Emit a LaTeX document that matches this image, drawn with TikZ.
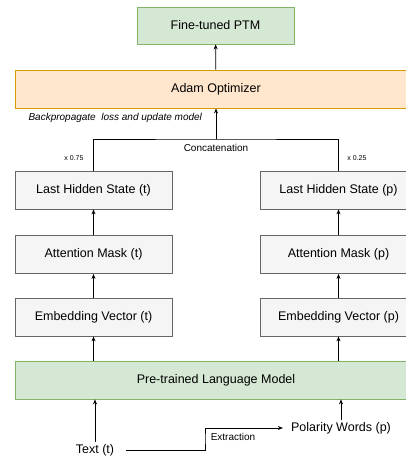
\documentclass[tikz,border=0pt]{standalone}
\usepackage{fontspec}
\setmainfont{Liberation Sans}
\usetikzlibrary{arrows.meta}

\definecolor{greenfill}{HTML}{D5E8D4}
\definecolor{greenline}{HTML}{82B366}
\definecolor{orangefill}{HTML}{FFE6CC}
\definecolor{orangeline}{HTML}{D79B00}
\definecolor{greyfill}{HTML}{F5F5F5}
\definecolor{greyline}{HTML}{666666}

\begin{document}
\begin{tikzpicture}[x=1pt,y=-1pt,
    layer/.style={draw=greyline,fill=greyfill,line width=0.8pt,minimum width=157pt,minimum height=38pt,font=\fontsize{12.5}{15}\selectfont},
    wide/.style={line width=0.8pt,minimum width=402pt,minimum height=38pt,font=\fontsize{12.5}{15}\selectfont},
    arr/.style={-{Stealth[length=5pt,width=4pt]},line width=0.8pt}]
    \path[use as bounding box,clip] (0,0) rectangle (406,456);
    \node[draw=greenline,fill=greenfill,line width=0.8pt,minimum width=157pt,minimum height=37pt,font=\fontsize{12.5}{15}\selectfont] (ptm) at (215.5,25.5){Fine-tuned PTM};
    \node[wide,draw=orangeline,fill=orangefill] (adam) at (216,89){Adam Optimizer};
    \node[wide,draw=greenline,fill=greenfill] (plm) at (216,380){Pre-trained Language Model};
    \node[layer] (lhst) at (93.5,190){Last Hidden State (t)};
    \node[layer] (lhsp) at (338.5,190){Last Hidden State (p)};
    \node[layer] (amt) at (93.5,254.5){Attention Mask (t)};
    \node[layer] (amp) at (338.5,254.5){Attention Mask (p)};
    \node[layer] (evt) at (93.5,317){Embedding Vector (t)};
    \node[layer] (evp) at (338.5,317){Embedding Vector (p)};
    \node[font=\fontsize{12.5}{15}\selectfont,inner sep=2pt] (text) at (95,450){Text (t)};
    \node[font=\fontsize{12.5}{15}\selectfont,inner sep=2pt] (pol) at (341,428){Polarity Words (p)};
    \coordinate (cc) at (216,139);
    \coordinate (ex) at (205,438);
    \draw[arr] (adam) -- (ptm);
    \draw[line width=0.8pt] (lhst.north) |- (cc) -| (lhsp.north);
    \draw[arr] (cc) -- (adam);
    \draw[arr] (amt) -- (lhst);
    \draw[arr] (amp) -- (lhsp);
    \draw[arr] (evt) -- (amt);
    \draw[arr] (evp) -- (amp);
    \draw[arr] (evt.south |- plm.north) -- (evt);
    \draw[arr] (evp.south |- plm.north) -- (evp);
    \draw[arr] (text.north) -- (text.north |- plm.south);
    \draw[arr] (pol.north) -- (pol.north |- plm.south);
    \draw[arr,shorten <=10pt,shorten >=6pt] (text.east) -| (ex) |- (pol.west);
    \node[font=\fontsize{10}{12}\selectfont\itshape,anchor=west] (back) at (25,118){Backpropagate\ \ loss and update model};
    \node[font=\fontsize{10}{12}\selectfont] (concat) at (216,148){Concatenation};
    \node[font=\fontsize{7}{8}\selectfont] (wt) at (74,158){x 0.75};
    \node[font=\fontsize{7}{8}\selectfont] (wp) at (357,158){x 0.25};
    \node[font=\fontsize{10}{12}\selectfont] (extr) at (233,437){Extraction};
\end{tikzpicture}
\end{document}
